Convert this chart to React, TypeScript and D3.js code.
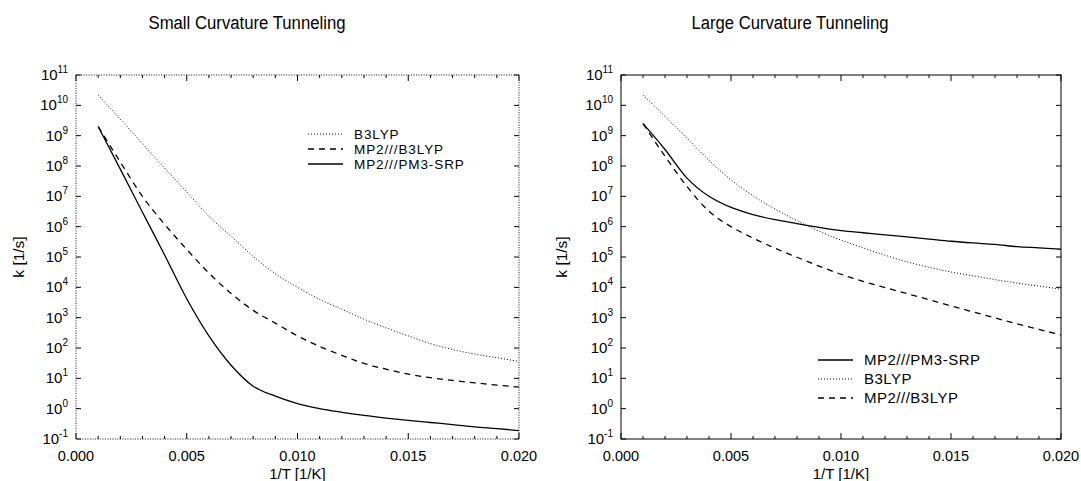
import React from 'react';
import * as d3 from 'd3';

// 1/T grid [1/K]
const invT = [0.001, 0.002, 0.003, 0.004, 0.005, 0.006, 0.007, 0.008, 0.009, 0.010,
  0.011, 0.012, 0.013, 0.014, 0.015, 0.016, 0.017, 0.018, 0.019, 0.020];

// Small curvature tunneling, k [1/s]
const smallB3LYP = [2.2e10, 3.5e9, 5.5e8, 8.5e7, 1.4e7, 2.2e6, 4.8e5, 1.05e5, 2.8e4, 1.0e4,
  4.0e3, 1.9e3, 8.9e2, 4.6e2, 2.5e2, 1.4e2, 8.9e1, 6.3e1, 4.8e1, 3.6e1];
const smallMP2B3LYP = [2.0e9, 1.35e8, 1.0e7, 1.2e6, 1.78e5, 2.95e4, 6.3e3, 1.74e3, 6.6e2, 2.5e2,
  1.12e2, 5.75e1, 3.1e1, 2.0e1, 1.38e1, 1.05e1, 8.5, 7.1, 6.0, 5.1];
const smallMP2PM3 = [2.0e9, 7.9e7, 3.0e6, 1.17e5, 4.2e3, 2.5e2, 2.7e1, 5.5, 2.6, 1.48,
  1.0, 0.76, 0.60, 0.49, 0.41, 0.35, 0.30, 0.25, 0.22, 0.19];

// Large curvature tunneling, k [1/s]
const largeMP2PM3 = [2.5e9, 3.5e8, 4.0e7, 1.0e7, 4.3e6, 2.5e6, 1.7e6, 1.26e6, 9.5e5, 7.4e5,
  6.3e5, 5.4e5, 4.6e5, 3.9e5, 3.3e5, 2.9e5, 2.6e5, 2.2e5, 2.0e5, 1.8e5];
const largeB3LYP = [2.2e10, 4.3e9, 8.3e8, 1.55e8, 3.5e7, 1.05e7, 3.8e6, 1.58e6, 7.1e5, 3.6e5,
  2.0e5, 1.15e5, 6.9e4, 4.6e4, 3.2e4, 2.4e4, 1.8e4, 1.38e4, 1.1e4, 8.7e3];
const largeMP2B3LYP = [2.5e9, 2.1e8, 2.1e7, 3.2e6, 1.0e6, 4.2e5, 1.95e5, 9.8e4, 5.0e4, 2.7e4,
  1.58e4, 9.8e3, 6.2e3, 3.9e3, 2.45e3, 1.55e3, 9.8e2, 6.3e2, 4.1e2, 2.7e2];

const xTicks = [0, 0.005, 0.010, 0.015, 0.020];
const xTickLabels = ['0.000', '0.005', '0.010', '0.015', '0.020'];
const xMinorTicks = d3.range(0, 21).map((i) => i * 0.001);
const yExponents = [-1, 0, 1, 2, 3, 4, 5, 6, 7, 8, 9, 10, 11];

const FONT = "'Liberation Sans', Arial, Helvetica, sans-serif";

type Style = 'solid' | 'dashed' | 'dotted';
const dashFor = (s: Style) => (s === 'dashed' ? '6,5' : s === 'dotted' ? '1,2' : undefined);
const widthFor = (s: Style) => (s === 'dotted' ? 1 : 1.3);

interface Series { name: string; values: number[]; style: Style }

interface PanelProps {
  left: number; right: number; top: number; bottom: number;
  title: string; titleX: number;
  yTitleX: number;
  series: Series[];
  legendX: number; legendY: number; legendStep: number; legendFont: number; legendSpacing: number;
  dottedFrame: boolean;
}

function Panel(p: PanelProps) {
  const x = d3.scaleLinear().domain([0, 0.02]).range([p.left, p.right]);
  const y = d3.scaleLog().domain([1e-1, 1e11]).range([p.bottom, p.top]);
  const line = d3.line<number>()
    .x((_, i) => x(invT[i]))
    .y((v) => y(v))
    .curve(d3.curveMonotoneX);
  const midY = (p.top + p.bottom) / 2;
  const midX = (p.left + p.right) / 2;
  return (
    <g fontFamily={FONT} fill="#000">
      <text x={p.titleX} y={29} fontSize={18} textAnchor="middle"
        textLength={197} lengthAdjust="spacingAndGlyphs">{p.title}</text>
      {/* frame */}
      <rect x={p.left} y={p.top} width={p.right - p.left} height={p.bottom - p.top}
        fill="none" stroke={p.dottedFrame ? '#333' : '#000'} strokeWidth={1}
        strokeDasharray={p.dottedFrame ? '1.2,1.3' : undefined} />
      {/* x ticks */}
      {xMinorTicks.map((t, i) => {
        const major = i % 5 === 0;
        const len = major ? 6 : 3;
        return (
          <g key={'xm' + i} stroke="#000" strokeWidth={1}>
            <line x1={x(t)} x2={x(t)} y1={p.bottom} y2={p.bottom - len} />
            <line x1={x(t)} x2={x(t)} y1={p.top} y2={p.top + len} />
          </g>
        );
      })}
      {xTicks.map((t, i) => (
        <text key={'xl' + i} x={x(t)} y={461} fontSize={14.5} textAnchor="middle">{xTickLabels[i]}</text>
      ))}
      <text x={midX} y={479} fontSize={15} textAnchor="middle">1/T [1/K]</text>
      {/* y ticks */}
      {yExponents.map((e) => (
        <g key={'y' + e}>
          <line x1={p.left} x2={p.left + 5} y1={y(Math.pow(10, e))} y2={y(Math.pow(10, e))} stroke="#000" />
          <line x1={p.right} x2={p.right - 5} y1={y(Math.pow(10, e))} y2={y(Math.pow(10, e))} stroke="#000" />
          <text x={p.left - 8} y={y(Math.pow(10, e)) + 5} fontSize={15} textAnchor="end">
            10<tspan dy={-7} fontSize={10}>{e}</tspan>
          </text>
        </g>
      ))}
      <text transform={`translate(${p.yTitleX},${midY}) rotate(-90)`} fontSize={15.5} textAnchor="middle">k [1/s]</text>
      {/* curves */}
      {p.series.map((s) => (
        <path key={s.name} d={line(s.values) || ''} fill="none" stroke="#000"
          strokeWidth={widthFor(s.style)} strokeDasharray={dashFor(s.style)} />
      ))}
      {/* legend */}
      {p.series.map((s, i) => {
        const ly = p.legendY + i * p.legendStep;
        return (
          <g key={'lg' + s.name}>
            <line x1={p.legendX} x2={p.legendX + 35} y1={ly} y2={ly} stroke="#000"
              strokeWidth={widthFor(s.style)} strokeDasharray={dashFor(s.style)} />
            <text x={p.legendX + 46} y={ly + 5} fontSize={p.legendFont}
              letterSpacing={p.legendSpacing}>{s.name}</text>
          </g>
        );
      })}
    </g>
  );
}

export default function App() {
  return (
    <svg width={1081} height={481} style={{ position: 'absolute', left: 0, top: 0, background: '#fff' }}>
      <rect width={1081} height={481} fill="#fff" />
      <Panel left={76} right={519} top={75} bottom={439}
        title="Small Curvature Tunneling" titleX={247} yTitleX={24}
        series={[
          { name: 'B3LYP', values: smallB3LYP, style: 'dotted' },
          { name: 'MP2///B3LYP', values: smallMP2B3LYP, style: 'dashed' },
          { name: 'MP2///PM3-SRP', values: smallMP2PM3, style: 'solid' },
        ]}
        legendX={308} legendY={134} legendStep={15} legendFont={13.5} legendSpacing={0.9}
        dottedFrame={true} />
      <Panel left={621} right={1061} top={75} bottom={439}
        title="Large Curvature Tunneling" titleX={790} yTitleX={567}
        series={[
          { name: 'MP2///PM3-SRP', values: largeMP2PM3, style: 'solid' },
          { name: 'B3LYP', values: largeB3LYP, style: 'dotted' },
          { name: 'MP2///B3LYP', values: largeMP2B3LYP, style: 'dashed' },
        ]}
        legendX={818} legendY={360} legendStep={19} legendFont={15} legendSpacing={0.5}
        dottedFrame={false} />
    </svg>
  );
}
